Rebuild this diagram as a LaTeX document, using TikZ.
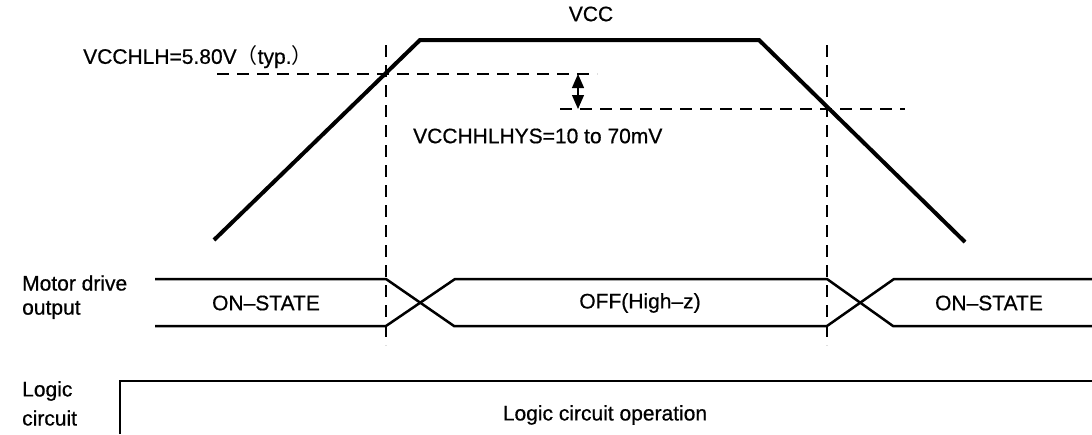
\documentclass[tikz,border=0pt]{standalone}
\usepackage{fontspec}
\setmainfont{Liberation Sans}[FakeBold=0.6]
\newfontfamily\cjk{Noto Sans CJK JP}
\usetikzlibrary{arrows.meta}
\tikzset{
  vccline/.style={line width=4pt, line join=miter},
  guide/.style={line width=1.2pt, dash pattern=on 12pt off 8pt},
  sig/.style={line width=2.5pt, line join=miter},
  lbl/.style={inner sep=0pt, anchor=west},
  ctr/.style={inner sep=0pt},
  dimarrow/.style={line width=1.2pt, {Triangle[length=14pt,width=12pt]}-{Triangle[length=14pt,width=12pt]}},
}
\begin{document}
\begin{tikzpicture}[x=1pt,y=-1pt, font=\fontsize{21}{24}\selectfont]
\useasboundingbox (0,0) rectangle (1092,434);
% VCC waveform
\coordinate (v0) at (214,240);
\coordinate (v1) at (420,40);
\coordinate (v2) at (759,40);
\coordinate (v3) at (965,242);
\draw[vccline] (v0) -- (v1) -- (v2) -- (v3);
% guides
\coordinate (g1t) at (386,45);
\coordinate (g1b) at (386,345);
\coordinate (g2t) at (827,45);
\coordinate (g2b) at (827,345);
\draw[guide] (g1t) -- (g1b);
\draw[guide] (g2t) -- (g2b);
\coordinate (h1a) at (217,74);
\coordinate (h1b) at (597,74);
\coordinate (h2a) at (560,109);
\coordinate (h2b) at (905,109);
\draw[guide] (h1a) -- (h1b);
\draw[guide] (h2a) -- (h2b);
\coordinate (ar1) at (578,74);
\coordinate (ar2) at (578,109);
\draw[dimarrow] (ar1) -- (ar2);
% labels top
\node[ctr] (vcc) at (591,14) {VCC};
\node[lbl] (vcchlh) at (83,57) {VCCHLH=5.80V{\cjk （}typ.{\cjk ）}};
\node[lbl] (hys) at (413,136) {VCCHHLHYS=10 to 70mV};
% motor drive output
\coordinate (mt0) at (155,279);
\coordinate (mt1) at (386,279);
\coordinate (mt2) at (454,326);
\coordinate (mt3) at (827,326);
\coordinate (mt4) at (894,279);
\coordinate (mt5) at (1092,279);
\coordinate (mb0) at (155,326);
\coordinate (mb1) at (386,326);
\coordinate (mb2) at (455,279);
\coordinate (mb3) at (827,279);
\coordinate (mb4) at (893,326);
\coordinate (mb5) at (1092,326);
\draw[sig] (mt0) -- (mt1) -- (mt2) -- (mt3) -- (mt4) -- (mt5);
\draw[sig] (mb0) -- (mb1) -- (mb2) -- (mb3) -- (mb4) -- (mb5);
\node[lbl] (md1) at (22,283) {Motor drive};
\node[lbl] (md2) at (22,310) {output};
\node[ctr] (on1) at (266,303) {ON–STATE};
\node[ctr] (off) at (640,303) {OFF(High–z)};
\node[ctr] (on2) at (989,303) {ON–STATE};
% logic circuit
\coordinate (lc0) at (120,434);
\coordinate (lc1) at (120,381);
\coordinate (lc2) at (1092,381);
\draw[line width=2pt, line join=miter] (lc0) -- (lc1) -- (lc2);
\node[lbl] (lg1) at (22,391) {Logic};
\node[lbl] (lg2) at (22,418) {circuit};
\node[ctr] (lco) at (605,415) {Logic circuit operation};
\end{tikzpicture}
\end{document}
